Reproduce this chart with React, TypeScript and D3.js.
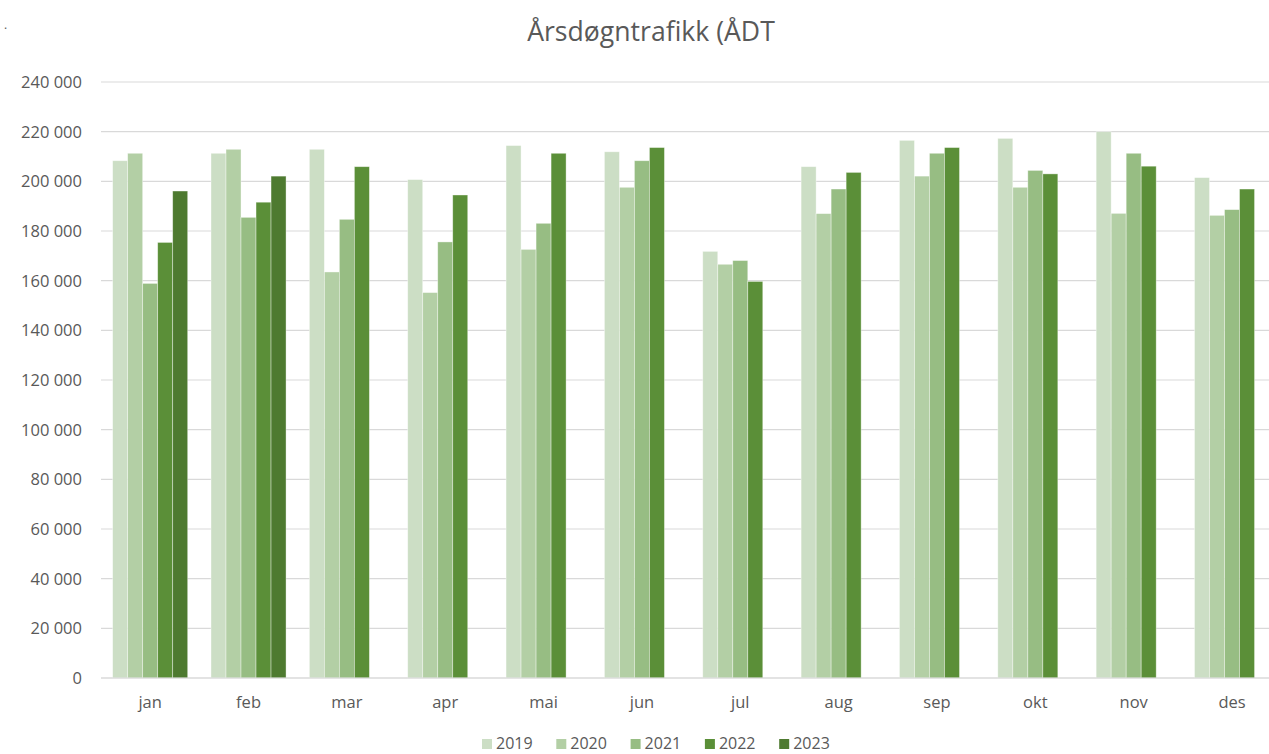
import React from "react";
import * as d3 from "d3";

const months = ["jan", "feb", "mar", "apr", "mai", "jun", "jul", "aug", "sep", "okt", "nov", "des"];
const years = ["2019", "2020", "2021", "2022", "2023"];

const v2019 = [208300, 211300, 212900, 200700, 214400, 211900, 171800, 205900, 216500, 217300, 220000, 201500];
const v2020 = [211300, 212900, 163500, 155200, 172600, 197600, 166600, 187000, 202100, 197600, 187100, 186300];
const v2021 = [158900, 185500, 184700, 175600, 183100, 208300, 168100, 196900, 211300, 204400, 211300, 188600];
const v2022 = [175400, 191600, 205900, 194500, 211300, 213600, 159700, 203600, 213600, 203000, 206100, 196900];
const v2023 = [196100, 202100, null, null, null, null, null, null, null, null, null, null];

const yTicks = [0, 20000, 40000, 60000, 80000, 100000, 120000, 140000, 160000, 180000, 200000, 220000, 240000];

const colors = ["#CCDEC5", "#B3CFA5", "#97BD83", "#5B8F38", "#4E7A30"];
const seriesValues = [v2019, v2020, v2021, v2022, v2023];

const W = 1269;
const H = 754;
const FONT = "'Open Sans', 'Noto Sans', sans-serif";
const TEXT = "#595959";

export default function App() {
  const plotLeft = 101;
  const step = 98.35;
  const x = d3
    .scaleBand<string>()
    .domain(months)
    .range([plotLeft, plotLeft + step * months.length])
    .paddingInner(0.237)
    .paddingOuter(0.1185);
  const xs = d3.scaleBand<string>().domain(years).range([0, x.bandwidth()]).padding(0);
  const y = d3.scaleLinear().domain([0, 240000]).range([678, 82]);

  const locale = d3.formatLocale({ decimal: ",", thousands: " ", grouping: [3], currency: ["", ""] });
  const fmt = locale.format(",d");

  const legendStart = 482;
  const legendStep = 74.3;

  return (
    <svg
      width={W}
      height={H}
      style={{ position: "absolute", left: 0, top: 0, background: "#fff" }}
      fontFamily={FONT}
    >
      <rect x={0} y={0} width={W} height={H} fill="#fff" />
      <text x={4} y={29} fontSize={12} fill={TEXT}>.</text>
      <text x={651} y={41} textAnchor="middle" fontSize={26.6} fill={TEXT}>
        Årsdøgntrafikk (ÅDT
      </text>

      {yTicks.map((t) => (
        <g key={t}>
          <line x1={plotLeft} x2={W} y1={y(t)} y2={y(t)} stroke="#D9D9D9" strokeWidth={1.2} />
          <text x={82} y={y(t)} dy="0.36em" textAnchor="end" fontSize={16.5} fill={TEXT}>
            {fmt(t)}
          </text>
        </g>
      ))}

      {months.map((m, i) => (
        <g key={m} transform={`translate(${x(m)},0)`}>
          {years.map((yr, j) => {
            const v = seriesValues[j][i];
            if (v == null) return null;
            return (
              <rect
                key={yr}
                x={xs(yr)}
                y={y(v)}
                width={xs.bandwidth()}
                height={y(0) - y(v)}
                fill={colors[j]}
                stroke="#ffffff"
                strokeOpacity={0.5}
                strokeWidth={0.75}
              />
            );
          })}
        </g>
      ))}

      <line x1={plotLeft} x2={W} y1={y(0)} y2={y(0)} stroke="#D9D9D9" strokeWidth={1.2} />

      {months.map((m) => (
        <text
          key={m}
          x={(x(m) as number) + x.bandwidth() / 2}
          y={708}
          textAnchor="middle"
          fontSize={16.5}
          fill={TEXT}
        >
          {m}
        </text>
      ))}

      {years.map((yr, j) => (
        <g key={yr} transform={`translate(${legendStart + j * legendStep},0)`}>
          <rect x={0} y={739} width={10} height={10} fill={colors[j]} />
          <text x={14} y={748.5} fontSize={16} fill={TEXT}>
            {yr}
          </text>
        </g>
      ))}
    </svg>
  );
}
